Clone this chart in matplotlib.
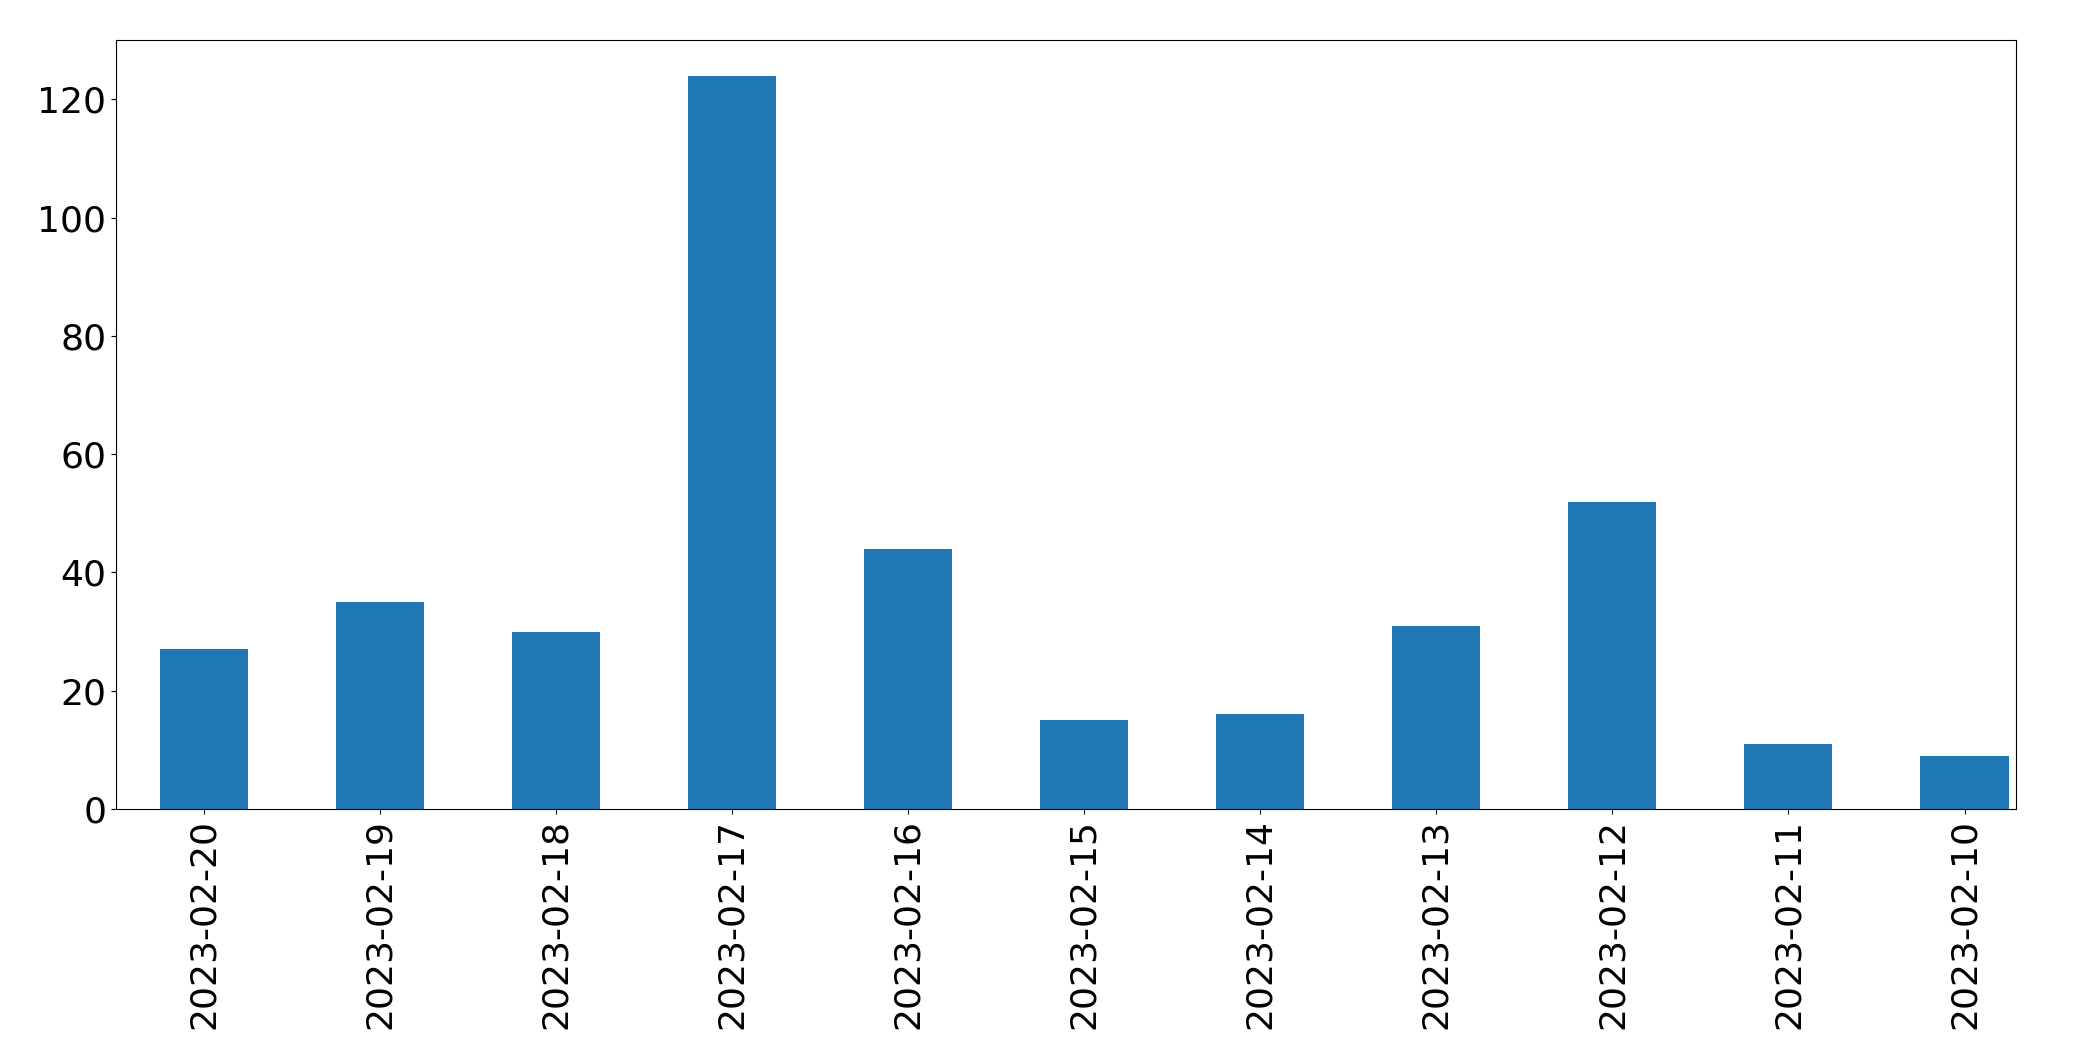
import matplotlib
matplotlib.use('Agg')
import matplotlib.pyplot as plt
import pandas as pd

# даты и значения
dates = ['2023-02-20', '2023-02-19', '2023-02-18', '2023-02-17', '2023-02-16',
         '2023-02-15', '2023-02-14', '2023-02-13', '2023-02-12', '2023-02-11',
         '2023-02-10']
counts = [27, 35, 30, 124, 44, 15, 16, 31, 52, 11, 9]


def main():
    s = pd.Series(counts, index=dates)

    fig = plt.figure(figsize=(20.93, 10.61), dpi=100)
    ax = fig.add_subplot(1, 1, 1)
    s.plot.bar(ax=ax, color='#1f77b4')

    ax.tick_params(axis='both', labelsize=26)
    ax.set_ylim(0, 130)
    ax.set_xlim(-0.5, len(counts) - 0.71)

    fig.subplots_adjust(left=0.0554, right=0.963, top=0.962, bottom=0.2375)
    fig.savefig('out.png', dpi=100)


if __name__ == '__main__':
    main()
